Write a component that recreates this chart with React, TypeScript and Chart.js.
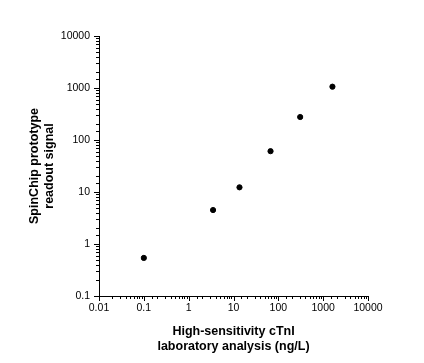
import React, { useEffect, useRef } from "react";
import { Chart, registerables } from "chart.js";

Chart.register(...registerables);

const hsCtnI = [0.1, 3.5, 13.6, 67, 307, 1610];
const spinChipSignal = [0.54, 4.5, 12.3, 61, 277, 1060];
const xTickLabels = ["0.01", "0.1", "1", "10", "100", "1000", "10000"];
const yTickLabels = ["0.1", "1", "10", "100", "1000", "10000"];
const xTitle = ["High-sensitivity cTnI", "laboratory analysis (ng/L)"];
const yTitle = ["SpinChip prototype", "readout signal"];

const FONT = "'Liberation Sans', Arial, Helvetica, sans-serif";

function labelFor(list: string[], value: number): string {
  const hit = list.find((s) => Math.abs(Number(s) - value) / value < 1e-6);
  return hit ?? "";
}

const tickMarks = {
  id: "tickMarks",
  afterDraw(chart: any) {
    const ctx = chart.ctx;
    ctx.save();
    ctx.strokeStyle = "#000";
    ctx.lineWidth = 1;
    const xs = chart.scales.x;
    const ys = chart.scales.y;
    const isMajor = (v: number) => {
      const l = Math.log10(v);
      return Math.abs(l - Math.round(l)) < 1e-6;
    };
    xs.ticks.forEach((t: any) => {
      const px = Math.round(xs.getPixelForValue(t.value)) + 0.5;
      const len = isMajor(t.value) ? 5 : 3;
      ctx.beginPath();
      ctx.moveTo(px, ys.bottom);
      ctx.lineTo(px, ys.bottom + len);
      ctx.stroke();
    });
    ys.ticks.forEach((t: any) => {
      const py = Math.round(ys.getPixelForValue(t.value)) + 0.5;
      const len = isMajor(t.value) ? 5 : 3;
      ctx.beginPath();
      ctx.moveTo(xs.left, py);
      ctx.lineTo(xs.left - len, py);
      ctx.stroke();
    });
    ctx.restore();
  },
};

export default function App() {
  const ref = useRef<HTMLCanvasElement | null>(null);
  useEffect(() => {
    if (!ref.current) return;
    const chart = new Chart(ref.current, {
      type: "scatter",
      data: {
        datasets: [
          {
            data: hsCtnI.map((x, i) => ({ x, y: spinChipSignal[i] })),
            backgroundColor: "#000",
            borderColor: "#000",
            pointRadius: 2.6,
            pointHoverRadius: 2.6,
          },
        ],
      },
      options: {
        animation: false,
        responsive: true,
        maintainAspectRatio: false,
        layout: { padding: { top: 36, right: 56, left: 0, bottom: 0 } },
        plugins: { legend: { display: false }, tooltip: { enabled: false } },
        scales: {
          x: {
            type: "logarithmic",
            min: 0.01,
            max: 10000,
            grid: { display: false, drawTicks: false },
            border: { display: true, color: "#000", width: 1 },
            ticks: {
              autoSkip: false,
              maxRotation: 0,
              padding: 6,
              color: "#000",
              font: { family: FONT, size: 10.5 },
              callback: (v: any) => labelFor(xTickLabels, Number(v)),
            },
            title: {
              display: true,
              text: xTitle,
              color: "#000",
              font: { family: FONT, size: 12.5, weight: "bold", lineHeight: 1.2 },
              padding: { top: 4, bottom: 8.5 },
            },
            afterFit: (s: any) => {
              s.height = 67;
            },
          },
          y: {
            type: "logarithmic",
            min: 0.1,
            max: 10000,
            grid: { display: false, drawTicks: false },
            border: { display: true, color: "#000", width: 1 },
            ticks: {
              autoSkip: false,
              padding: 9,
              color: "#000",
              font: { family: FONT, size: 10.5 },
              callback: (v: any) => labelFor(yTickLabels, Number(v)),
            },
            title: {
              display: true,
              text: yTitle,
              color: "#000",
              font: { family: FONT, size: 12.5, weight: "bold", lineHeight: 1.2 },
              padding: { top: 27.5, bottom: 0 },
            },
            afterFit: (s: any) => {
              s.width = 99;
            },
          },
        },
      },
      plugins: [tickMarks],
    });
    return () => chart.destroy();
  }, []);
  return (
    <div style={{ position: "fixed", left: 0, top: 0, width: 424, height: 363, background: "#fff" }}>
      <canvas ref={ref} />
    </div>
  );
}
